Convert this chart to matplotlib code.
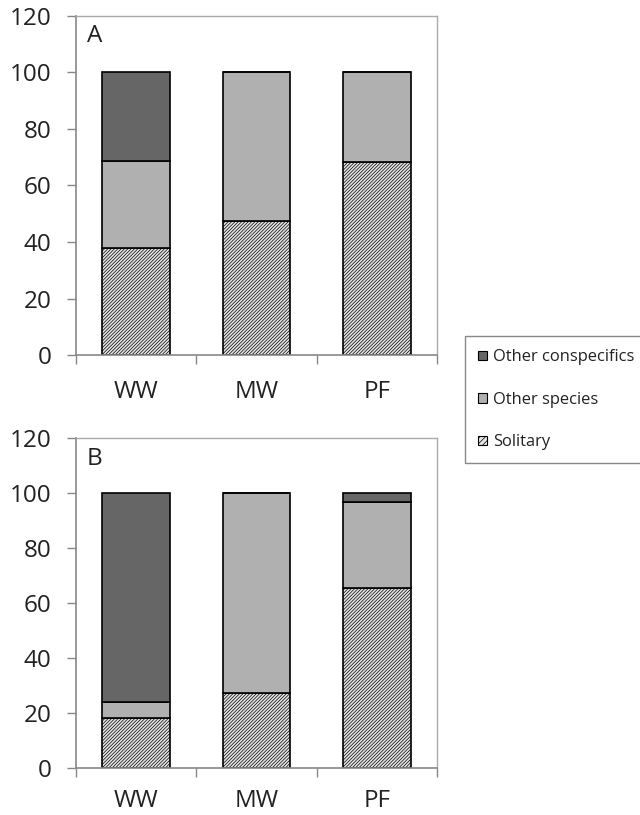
import matplotlib.pyplot as plt
import numpy as np
from matplotlib.patches import Patch

plt.rcParams['font.family'] = ['Open Sans', 'DejaVu Sans']
plt.rcParams['hatch.linewidth'] = 0.5
plt.rcParams['hatch.color'] = '#858585'

# habitat categories and percentage of observations
habitats = ['WW', 'MW', 'PF']

solitary_a = [37.7, 47.6, 68.2]
species_a = [31.0, 52.4, 31.8]
conspecific_a = [31.3, 0.0, 0.0]

solitary_b = [18.4, 27.5, 65.6]
species_b = [5.8, 72.5, 31.2]
conspecific_b = [75.8, 0.0, 3.2]

series_names = ['Solitary', 'Other species', 'Other conspecifics']

dark_grey = '#666666'
light_grey = '#b0b0b0'
hatch_bg = '#e4e4e4'
axis_grey = '#888888'
hatch_pat = '/' * 10

fig = plt.figure(figsize=(6.4, 8.15), dpi=100)
ax_a = fig.add_axes([0.11875, 0.5644, 0.5641, 0.416])
ax_b = fig.add_axes([0.11875, 0.0573, 0.5641, 0.4049])


def draw_panel(ax, solitary, species, conspecific, letter, label_pad):
    x = np.arange(len(habitats))
    w = 0.56
    sol = np.array(solitary)
    spe = np.array(species)
    con = np.array(conspecific)
    ax.bar(x, sol, w, color=hatch_bg, edgecolor='black', hatch=hatch_pat,
           linewidth=1.2, zorder=2)
    ax.bar(x, spe, w, bottom=sol, color=light_grey, edgecolor='black',
           linewidth=1.2, zorder=2)
    ax.bar(x, con, w, bottom=sol + spe, color=dark_grey, edgecolor='black',
           linewidth=1.2, zorder=2)

    ax.set_xlim(-0.5, 2.5)
    ax.set_ylim(0, 120)
    ax.set_yticks(np.arange(0, 121, 20))
    ax.tick_params(axis='y', direction='out', length=6.5, width=1,
                   color=axis_grey, pad=11, labelsize=17.5, labelcolor='#222222')

    # category boundaries as tick marks, names on minor ticks
    ax.set_xticks([-0.5, 0.5, 1.5, 2.5])
    ax.set_xticklabels([])
    ax.set_xticks(x, minor=True)
    ax.set_xticklabels(habitats, minor=True)
    ax.tick_params(axis='x', which='major', direction='out', length=6.5,
                   width=1, color=axis_grey)
    ax.tick_params(axis='x', which='minor', length=0, pad=label_pad,
                   labelsize=17.5, labelcolor='#222222')

    for side in ['left', 'bottom']:
        ax.spines[side].set_color(axis_grey)
        ax.spines[side].set_linewidth(1.2)
    for side in ['top', 'right']:
        ax.spines[side].set_color('#aaaaaa')
        ax.spines[side].set_linewidth(1.0)

    ax.text(0.03, 0.975, letter, transform=ax.transAxes, ha='left', va='top',
            fontsize=17.5, color='#222222')


draw_panel(ax_a, solitary_a, species_a, conspecific_a, 'A', 18)
draw_panel(ax_b, solitary_b, species_b, conspecific_b, 'B', 15)

handles = [
    Patch(facecolor=dark_grey, edgecolor='black', linewidth=0.8),
    Patch(facecolor=light_grey, edgecolor='black', linewidth=0.8),
    Patch(facecolor=hatch_bg, edgecolor='black', hatch='/' * 6, linewidth=0.8),
]
leg = fig.legend(handles, series_names[::-1], loc='upper left',
                 bbox_to_anchor=(0.7266, 0.5877), fontsize=11.9,
                 handlelength=0.5, handleheight=0.5, handletextpad=0.4,
                 labelspacing=1.6, borderpad=0.8, borderaxespad=0,
                 fancybox=False, framealpha=1, edgecolor=axis_grey)
leg.get_frame().set_linewidth(1.0)
for t in leg.get_texts():
    t.set_color('#222222')

fig.savefig('out.png', dpi=100)
